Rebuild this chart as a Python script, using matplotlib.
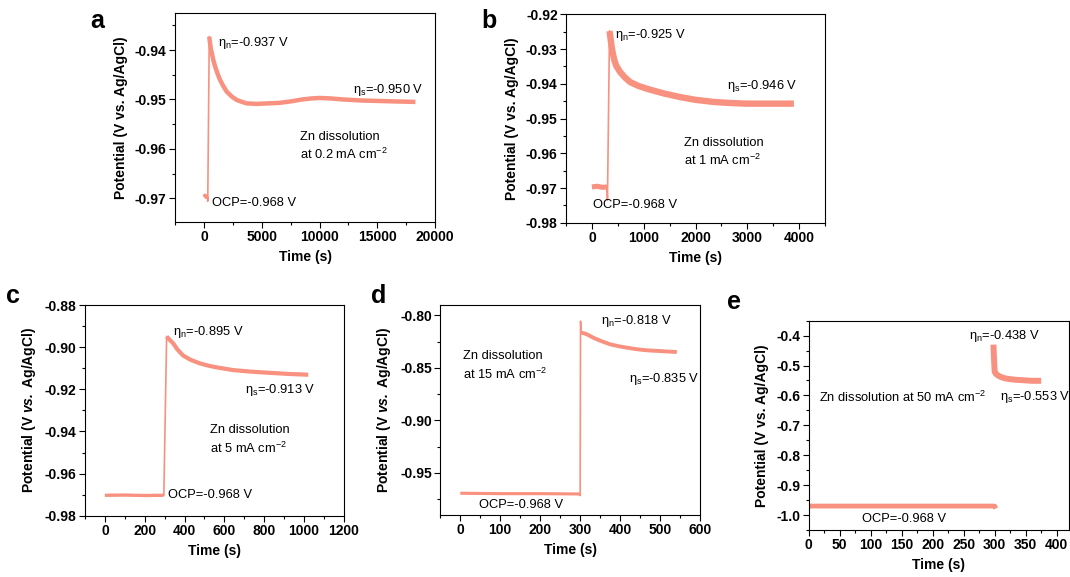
import numpy as np
import matplotlib
matplotlib.use("Agg")
import matplotlib.pyplot as plt
from matplotlib.ticker import MultipleLocator, AutoMinorLocator

plt.rcParams["font.family"] = ["Liberation Sans", "DejaVu Sans"]
plt.rcParams["mathtext.fontset"] = "custom"
plt.rcParams["mathtext.rm"] = "Liberation Sans"
plt.rcParams["mathtext.it"] = "Liberation Sans:italic"
plt.rcParams["mathtext.bf"] = "Liberation Sans:bold"
plt.rcParams["mathtext.bfit"] = "Liberation Sans:bold:italic"
plt.rcParams["axes.unicode_minus"] = False

COLOR = "#F8917F"

# ---- panel a: 0.2 mA cm-2 ----
a_ocp_t = [0, 100, 200, 300]
a_ocp_v = [-0.9697, -0.9694, -0.9698, -0.9697]
a_jump_t = [300, 330, 460]
a_jump_v = [-0.9697, -0.9706, -0.9373]
a_t = [460, 520, 600, 700, 808, 1000, 1200, 1385, 1650, 1963, 2400, 2830, 3300,
       3700, 4560, 5500, 6500, 7500, 8500, 9300, 10000, 11000, 12000, 13500,
       15000, 16500, 18300]
a_v = [-0.9373, -0.9385, -0.9398, -0.9408, -0.9420, -0.9436, -0.9449, -0.9460,
       -0.9472, -0.9484, -0.9494, -0.9501, -0.9505, -0.9508, -0.9509, -0.9508,
       -0.9507, -0.9504, -0.9500, -0.9498, -0.9497, -0.9498, -0.9500, -0.9502,
       -0.9503, -0.9504, -0.9505]

# ---- panel b: 1 mA cm-2 ----
b_ocp_t = [0, 100, 200, 290]
b_ocp_v = [-0.9697, -0.9695, -0.9698, -0.9697]
b_jump_t = [290, 300, 340]
b_jump_v = [-0.9697, -0.9735, -0.9248]
b_t = [340, 360, 380, 400, 430, 470, 545, 640, 738, 900, 1060, 1250, 1400,
       1700, 2000, 2343, 2650, 2986, 3500, 3900]
b_v = [-0.9248, -0.9270, -0.9292, -0.9310, -0.9330, -0.9348, -0.9366, -0.9382,
       -0.9395, -0.9406, -0.9414, -0.9422, -0.9428, -0.9438, -0.9446, -0.9452,
       -0.9455, -0.9457, -0.9457, -0.9457]

# ---- panel c: 5 mA cm-2 ----
c_ocp_t = [0, 100, 200, 293]
c_ocp_v = [-0.9703, -0.9702, -0.9704, -0.9703]
c_jump_t = [293, 296, 310]
c_jump_v = [-0.9703, -0.9705, -0.8950]
c_t = [310, 325, 343, 365, 393, 430, 477, 520, 561, 645, 730, 812, 920, 1021]
c_v = [-0.8950, -0.8965, -0.8982, -0.9012, -0.9040, -0.9060, -0.9077, -0.9088,
       -0.9096, -0.9109, -0.9116, -0.9121, -0.9127, -0.9131]

# ---- panel d: 15 mA cm-2 ----
d_ocp_t = [0, 100, 200, 298]
d_ocp_v = [-0.9693, -0.9697, -0.9697, -0.9700]
d_jump_t = [298, 300, 301, 303]
d_jump_v = [-0.9700, -0.9715, -0.8054, -0.8165]
d_t = [303, 310, 317, 325, 333, 350, 375, 395, 417, 437, 458, 480, 500, 520, 542]
d_v = [-0.8165, -0.8170, -0.8180, -0.8196, -0.8212, -0.8240, -0.8275, -0.8292,
       -0.8307, -0.8319, -0.8329, -0.8335, -0.8339, -0.8344, -0.8348]

# ---- panel e: 50 mA cm-2 ----
e_ocp_t = [0, 100, 200, 300, 302]
e_ocp_v = [-0.970, -0.970, -0.970, -0.970, -0.978]
e_t = [298, 299, 300, 302, 306, 311, 317, 325, 333, 345, 360, 375]
e_v = [-0.430, -0.480, -0.520, -0.528, -0.534, -0.539, -0.543, -0.5455,
       -0.5475, -0.549, -0.551, -0.551]

fig = plt.figure(figsize=(10.7, 5.77), dpi=100)

axes_rect = {
    "a": [0.1636, 0.6153, 0.2430, 0.3622],
    "b": [0.5290, 0.6140, 0.2420, 0.3610],
    "c": [0.0794, 0.1062, 0.2420, 0.3652],
    "d": [0.4115, 0.1075, 0.2427, 0.3640],
    "e": [0.7558, 0.0815, 0.2433, 0.3627],
}
letter_pos = {"a": (0.084, 0.985), "b": (0.450, 0.985), "c": (0.006, 0.507),
              "d": (0.347, 0.507), "e": (0.679, 0.498)}


def style_axis(ax, xlim, ylim, xmaj, ymaj, yfmt, italic_vs=False):
    ax.set_xlim(*xlim)
    ax.set_ylim(*ylim)
    ax.xaxis.set_major_locator(MultipleLocator(xmaj))
    ax.yaxis.set_major_locator(MultipleLocator(ymaj))
    ax.xaxis.set_minor_locator(AutoMinorLocator(2))
    ax.yaxis.set_minor_locator(AutoMinorLocator(2))
    ax.yaxis.set_major_formatter(plt.FormatStrFormatter(yfmt))
    ax.tick_params(which="major", direction="out", length=4, width=0.8,
                   labelsize=10, pad=2)
    ax.tick_params(which="minor", direction="out", length=2.2, width=0.8)
    for lab in ax.get_xticklabels() + ax.get_yticklabels():
        lab.set_fontweight("bold")
    for sp in ax.spines.values():
        sp.set_linewidth(0.8)
    ax.set_xlabel("Time (s)", fontsize=10, fontweight="bold", labelpad=4)
    if italic_vs:
        ylab = r"Potential (V $\mathbfit{vs.}$ Ag/AgCl)"
    else:
        ylab = "Potential (V vs. Ag/AgCl)"
    ax.set_ylabel(ylab, fontsize=10, fontweight="bold", labelpad=5)


def draw(ax, ocp_t, ocp_v, jump_t, jump_v, t, v, band):
    ax.plot(ocp_t, ocp_v, color=COLOR, lw=band * 0.8, solid_capstyle="butt")
    if jump_t is not None:
        ax.plot(jump_t, jump_v, color=COLOR, lw=1.2)
    ax.plot(t, v, color=COLOR, lw=band, solid_capstyle="butt",
            solid_joinstyle="round")


ANN = 9.3

# a
ax = fig.add_axes(axes_rect["a"])
draw(ax, a_ocp_t, a_ocp_v, a_jump_t, a_jump_v, a_t, a_v, 3.2)
style_axis(ax, (-2500, 20000), (-0.9748, -0.9325), 5000, 0.01, "%.2f")
ax.text(1200, -0.9386, r"η$_\mathrm{n}$=-0.937 V", fontsize=ANN, va="center")
ax.text(12900, -0.9481, r"η$_\mathrm{s}$=-0.950 V", fontsize=ANN, va="center")
ax.text(8300, -0.9595, "Zn dissolution\nat 0.2 mA cm$^{\\mathrm{-2}}$",
        fontsize=ANN, va="center", linespacing=1.35)
ax.text(700, -0.9709, "OCP=-0.968 V", fontsize=ANN, va="center")

# b
ax = fig.add_axes(axes_rect["b"])
draw(ax, b_ocp_t, b_ocp_v, b_jump_t, b_jump_v, b_t, b_v, 4.6)
style_axis(ax, (-500, 4500), (-0.98, -0.92), 1000, 0.01, "%.2f")
ax.text(450, -0.9258, r"η$_\mathrm{n}$=-0.925 V", fontsize=ANN, va="center")
ax.text(2600, -0.9405, r"η$_\mathrm{s}$=-0.946 V", fontsize=ANN, va="center")
ax.text(1780, -0.9598, "Zn dissolution\nat 1 mA cm$^{\\mathrm{-2}}$",
        fontsize=ANN, va="center", linespacing=1.35)
ax.text(30, -0.9749, "OCP=-0.968 V", fontsize=ANN, va="center")

# c
ax = fig.add_axes(axes_rect["c"])
draw(ax, c_ocp_t, c_ocp_v, c_jump_t, c_jump_v, c_t, c_v, 3.0)
style_axis(ax, (-100, 1200), (-0.98, -0.88), 200, 0.02, "%.2f", italic_vs=True)
ax.text(340, -0.8927, r"η$_\mathrm{n}$=-0.895 V", fontsize=ANN, va="center")
ax.text(703, -0.9203, r"η$_\mathrm{s}$=-0.913 V", fontsize=ANN, va="center")
ax.text(527, -0.9441, "Zn dissolution\nat 5 mA cm$^{\\mathrm{-2}}$",
        fontsize=ANN, va="center", linespacing=1.35)
ax.text(315, -0.9703, "OCP=-0.968 V", fontsize=ANN, va="center")

# d
ax = fig.add_axes(axes_rect["d"])
draw(ax, d_ocp_t, d_ocp_v, d_jump_t, d_jump_v, d_t, d_v, 2.8)
style_axis(ax, (-50, 600), (-0.99, -0.79), 100, 0.05, "%.2f", italic_vs=True)
ax.text(352, -0.8054, r"η$_\mathrm{n}$=-0.818 V", fontsize=ANN, va="center")
ax.text(423, -0.8608, r"η$_\mathrm{s}$=-0.835 V", fontsize=ANN, va="center")
ax.text(7, -0.8481, "Zn dissolution\nat 15 mA cm$^{\\mathrm{-2}}$",
        fontsize=ANN, va="center", linespacing=1.35)
ax.text(48, -0.9804, "OCP=-0.968 V", fontsize=ANN, va="center")

# e
ax = fig.add_axes(axes_rect["e"])
draw(ax, e_ocp_t, e_ocp_v, None, None, e_t, e_v, 4.3)
style_axis(ax, (0, 420), (-1.05, -0.35), 50, 0.1, "%.1f")
ax.text(258, -0.400, r"η$_\mathrm{n}$=-0.438 V", fontsize=ANN, va="center")
ax.text(309, -0.6056, r"η$_\mathrm{s}$=-0.553 V", fontsize=ANN, va="center")
ax.text(16, -0.6056, "Zn dissolution at 50 mA cm$^{\\mathrm{-2}}$",
        fontsize=ANN, va="center")
ax.text(86, -1.0134, "OCP=-0.968 V", fontsize=ANN, va="center")

for key, (x, y) in letter_pos.items():
    fig.text(x, y, key, fontsize=18, fontweight="bold", va="top", ha="left")

fig.savefig("out.png", dpi=100)
